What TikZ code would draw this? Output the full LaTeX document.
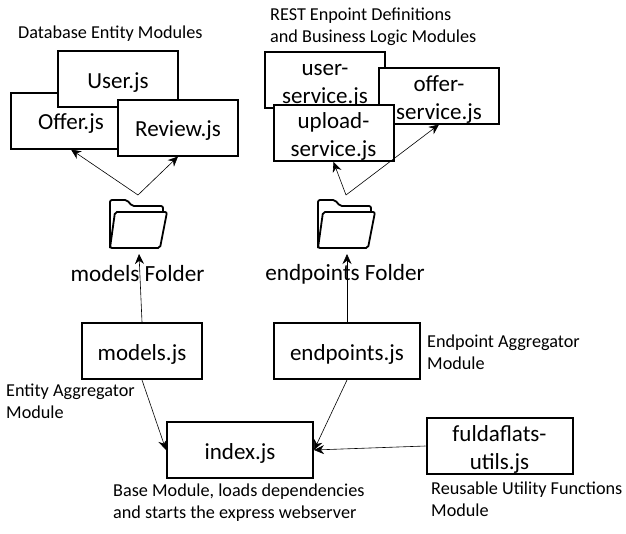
\documentclass[tikz,border=0pt]{standalone}
\usepackage{fontspec}
\setmainfont{Carlito}
\usetikzlibrary{positioning, arrows.meta}

\tikzset{
    module/.style={draw, line width=2pt, fill=white, inner sep=0pt, align=center, text depth=0pt,
        text height=18pt, minimum width=120pt, minimum height=56pt, font=\fontsize{23}{28}\selectfont},
    twolines/.style={text height=47pt},
    widemodule/.style={module, minimum width=146pt},
    caption/.style={anchor=west, inner sep=0pt, align=left, font=\fontsize{18.2}{22}\selectfont},
    foldername/.style={inner sep=0pt, font=\fontsize{23.2}{28}\selectfont},
    link/.style={-{Stealth[length=10pt, width=9pt]}, line width=0.6pt},
    pics/folder/.style={code={
        \draw[line width=1.8pt, rounded corners=2pt] (-28,24) -- (-28,-24) -- (-11,-24) -- (-6,-18) -- (25,-18) -- (25,-12);
        \draw[line width=1.8pt, rounded corners=2pt] (-23,-12) -- (29,-12) -- (22,24) -- (-28,24) -- cycle;
        \coordinate (-in) at (1,30);
        \coordinate (-out) at (0,-29);
    }}
}

\begin{document}
\begin{tikzpicture}[x=1pt, y=-1pt]
        \useasboundingbox (0, 0) rectangle (626, 533);

        \node[caption] (dblabel) at (18, 34) {Database Entity Modules};
        \node[caption] (restlabel) at (270, 27) {REST Enpoint Definitions\\and Business Logic Modules};

        \node[module] (offerjs) at (71, 120.5) {Offer.js};
        \node[module] (userjs) at (118, 79) {User.js};
        \node[module] (reviewjs) at (178, 127.5) {Review.js};

        \node[module, twolines] (userservice) at (325, 80) {user-\\service.js};
        \node[module, twolines] (offerservice) at (439, 95.5) {offer-\\service.js};
        \node[module, twolines] (uploadservice) at (333.5, 133) {upload-\\service.js};

        \pic (modelsdir) at (138, 224) {folder};
        \pic (endpointsdir) at (346, 224) {folder};
        \node[foldername] (modelsname) at (137.5, 274) {models Folder};
        \node[foldername] (endpointsname) at (345, 274) {endpoints Folder};

        \node[module] (modelsjs) at (142, 351) {models.js};
        \node[widemodule] (endpointsjs) at (347, 351) {endpoints.js};
        \node[widemodule] (indexjs) at (240, 450) {index.js};
        \node[widemodule, twolines] (utilsjs) at (499.5, 446) {fuldaflats-\\utils.js};

        \node[caption] (endpointslabel) at (427, 352) {Endpoint Aggregator\\Module};
        \node[caption] (modelslabel) at (6, 401) {Entity Aggregator\\Module};
        \node[caption] (indexlabel) at (113, 503) {Base Module, loads dependencies\\and starts the express webserver};
        \node[caption] (utilslabel) at (431, 499) {Reusable Utility Functions\\Module};

        \draw[link] (modelsdir-out) to (offerjs.south);
        \draw[link] (modelsdir-out) to (reviewjs.south);
        \draw[link] (endpointsdir-out) to (uploadservice.south);
        \draw[link] (endpointsdir-out) to (offerservice.south);
        \draw[link] (modelsjs.north) to (modelsdir-in);
        \draw[link] (endpointsjs.north) to (endpointsdir-in);
        \draw[link] (modelsjs.south) to (indexjs.west);
        \draw[link] (endpointsjs.south) to (indexjs.east);
        \draw[link] (utilsjs.west) to (indexjs.east);
    \end{tikzpicture}
\end{document}
